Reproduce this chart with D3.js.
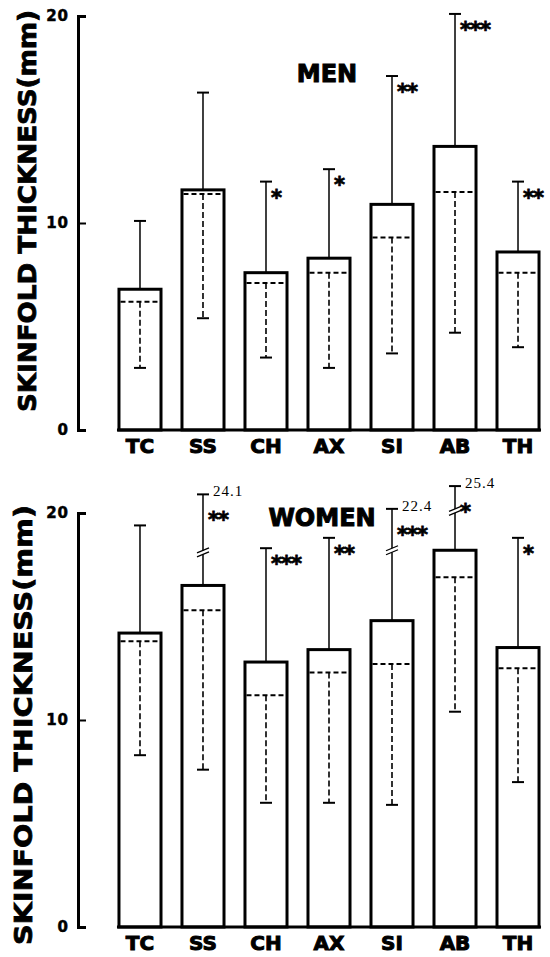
<!DOCTYPE html>
<html>
<head>
<meta charset="utf-8">
<script src="https://cdn.jsdelivr.net/npm/d3@7"></script>
<style>
  body { margin: 0; background: #fff; }
  svg text { fill: #000; }
</style>
</head>
<body>
<svg id="chart" width="550" height="957"></svg>
<script>
// data
const categories = ["TC", "SS", "CH", "AX", "SI", "AB", "TH"];

const menMean   = [6.8, 11.6, 7.6, 8.3, 10.9, 13.7, 8.6];
const menUpper  = [10.1, 16.3, 12.0, 12.6, 17.1, 20.1, 12.0];
const menMedian = [6.2, 11.4, 7.1, 7.6, 9.3, 11.5, 7.6];
const menLower  = [3.0, 5.4, 3.5, 3.0, 3.7, 4.7, 4.0];
const menStars  = ["", "", "*", "*", "**", "***", "**"];

const womenMean   = [14.2, 16.5, 12.8, 13.4, 14.8, 18.2, 13.5];
const womenUpper  = [19.4, 20.9, 18.3, 18.8, 20.2, 21.3, 18.8];
const womenUpperLabel = ["", "24.1", "", "", "22.4", "25.4", ""];
const womenBreak  = [null, 18.1, null, null, 18.2, 20.1, null];
const womenMedian = [13.8, 15.3, 11.2, 12.3, 12.7, 16.9, 12.5];
const womenLower  = [8.3, 7.6, 6.0, 6.0, 5.9, 10.4, 7.0];
const womenStars  = ["", "**", "***", "**", "***", "*", "*"];

const yTicks = [0, 10, 20];

const svg = d3.select("#chart");
const heavy = "'DejaVu Sans', Arial, sans-serif";

const x = d3.scaleBand().domain(categories).range([98, 560]).padding(0.333);

function drawPanel(opt) {
    const y = d3.scaleLinear().domain([0, 20]).range([opt.base, opt.top]);
    const g = svg.append("g");

    // y axis, ticks pointing inward
    const ax = g.append("g")
        .attr("transform", "translate(78,0)")
        .call(d3.axisLeft(y).tickValues(yTicks).tickSizeInner(-8).tickSizeOuter(-8).tickPadding(9));
    ax.select(".domain").attr("stroke-width", 3);
    ax.selectAll(".tick line").attr("stroke-width", 2);
    ax.selectAll(".tick text")
        .attr("font-family", heavy).attr("font-weight", "bold")
        .attr("font-size", 15).attr("letter-spacing", 1)
        .attr("stroke", "#000").attr("stroke-width", 0.5);

    // y title
    g.append("text")
        .attr("transform", `translate(${opt.titleX},${opt.titleY}) rotate(-90)`)
        .attr("text-anchor", "middle").attr("dy", "0.36em")
        .attr("font-family", heavy).attr("font-weight", "bold").attr("font-size", 25)
        .attr("stroke", "#000").attr("stroke-width", 0.8)
        .attr("textLength", opt.titleLen).attr("lengthAdjust", "spacingAndGlyphs")
        .text("SKINFOLD THICKNESS(mm)");

    const rows = categories.map((c, i) => ({
        c: c, mean: opt.mean[i], upper: opt.upper[i], median: opt.median[i],
        lower: opt.lower[i], star: opt.stars[i],
        label: opt.upperLabel ? opt.upperLabel[i] : "",
        brk: opt.brk ? opt.brk[i] : null
    }));
    const cx = d => x(d.c) + x.bandwidth() / 2;

    // upper error bars
    g.selectAll(".up").data(rows).enter().append("line")
        .attr("x1", cx).attr("x2", cx)
        .attr("y1", d => y(d.mean)).attr("y2", d => y(d.upper))
        .attr("stroke", "#000").attr("stroke-width", 1.5);
    g.selectAll(".upcap").data(rows).enter().append("line")
        .attr("x1", d => cx(d) - 6).attr("x2", d => cx(d) + 6)
        .attr("y1", d => y(d.upper)).attr("y2", d => y(d.upper))
        .attr("stroke", "#000").attr("stroke-width", 2);

    // axis breaks on the long bars
    const br = rows.filter(d => d.brk != null);
    br.forEach(d => {
        const bx = cx(d), by = y(d.brk);
        g.append("rect").attr("x", bx - 3).attr("y", by - 2).attr("width", 6).attr("height", 4).attr("fill", "#fff");
        [-2, 2].forEach(o => {
            g.append("line")
                .attr("x1", bx - 6).attr("y1", by + o + 2.5)
                .attr("x2", bx + 6).attr("y2", by + o - 2.5)
                .attr("stroke", "#000").attr("stroke-width", 1.3);
        });
    });

    // bars
    g.selectAll(".bar").data(rows).enter().append("rect")
        .attr("x", d => x(d.c)).attr("width", x.bandwidth())
        .attr("y", d => y(d.mean)).attr("height", d => y(0) - y(d.mean))
        .attr("fill", "#fff").attr("stroke", "#000").attr("stroke-width", 3);

    // dashed median line and lower range
    g.selectAll(".med").data(rows).enter().append("line")
        .attr("x1", d => x(d.c) + 1.5).attr("x2", d => x(d.c) + x.bandwidth() - 1.5)
        .attr("y1", d => y(d.median)).attr("y2", d => y(d.median))
        .attr("stroke", "#000").attr("stroke-width", 2).attr("stroke-dasharray", "5,3");
    g.selectAll(".low").data(rows).enter().append("line")
        .attr("x1", cx).attr("x2", cx)
        .attr("y1", d => y(d.median)).attr("y2", d => y(d.lower))
        .attr("stroke", "#000").attr("stroke-width", 1.6).attr("stroke-dasharray", "6,3");
    g.selectAll(".lowcap").data(rows).enter().append("line")
        .attr("x1", d => cx(d) - 6).attr("x2", d => cx(d) + 6)
        .attr("y1", d => y(d.lower)).attr("y2", d => y(d.lower))
        .attr("stroke", "#000").attr("stroke-width", 2);

    // baseline
    g.append("line")
        .attr("x1", x(categories[0]) - 2).attr("x2", x(categories[6]) + x.bandwidth() + 2)
        .attr("y1", y(0)).attr("y2", y(0))
        .attr("stroke", "#000").attr("stroke-width", 3);

    // significance stars
    g.selectAll(".star").data(rows.filter(d => d.star)).enter().append("text")
        .attr("x", d => cx(d) + 5)
        .attr("y", d => y(d.upper) + (d.label ? 22 : 12) + 11)
        .attr("font-family", heavy).attr("font-weight", "bold").attr("font-size", 21)
        .attr("stroke", "#000").attr("stroke-width", 0.8)
        .attr("letter-spacing", -1)
        .text(d => d.star);

    // real value of clipped bars
    g.selectAll(".vlab").data(rows.filter(d => d.label)).enter().append("text")
        .attr("x", d => cx(d) + 10).attr("y", d => y(d.upper) + 2)
        .attr("font-family", "'Liberation Serif', 'DejaVu Serif', serif").attr("font-size", 15)
        .attr("letter-spacing", 1)
        .text(d => d.label);

    // category labels
    g.selectAll(".xl").data(categories).enter().append("text")
        .attr("x", d => x(d) + x.bandwidth() / 2).attr("y", opt.base + 23)
        .attr("text-anchor", "middle")
        .attr("font-family", heavy).attr("font-weight", "bold").attr("font-size", 20)
        .attr("stroke", "#000").attr("stroke-width", 1)
        .text(d => d);

    // panel title
    g.append("text")
        .attr("x", opt.nameX).attr("y", opt.nameY).attr("dy", "0.36em")
        .attr("text-anchor", "middle")
        .attr("font-family", heavy).attr("font-weight", "bold").attr("font-size", 24)
        .attr("stroke", "#000").attr("stroke-width", 1)
        .text(opt.name);
}

drawPanel({
    name: "MEN", nameX: 327, nameY: 73,
    base: 430, top: 16, titleX: 27, titleY: 211, titleLen: 402,
    mean: menMean, upper: menUpper, median: menMedian, lower: menLower, stars: menStars
});

drawPanel({
    name: "WOMEN", nameX: 322, nameY: 517,
    base: 927, top: 513, titleX: 23, titleY: 725, titleLen: 440,
    mean: womenMean, upper: womenUpper, median: womenMedian, lower: womenLower,
    stars: womenStars, upperLabel: womenUpperLabel, brk: womenBreak
});
</script>
</body>
</html>
